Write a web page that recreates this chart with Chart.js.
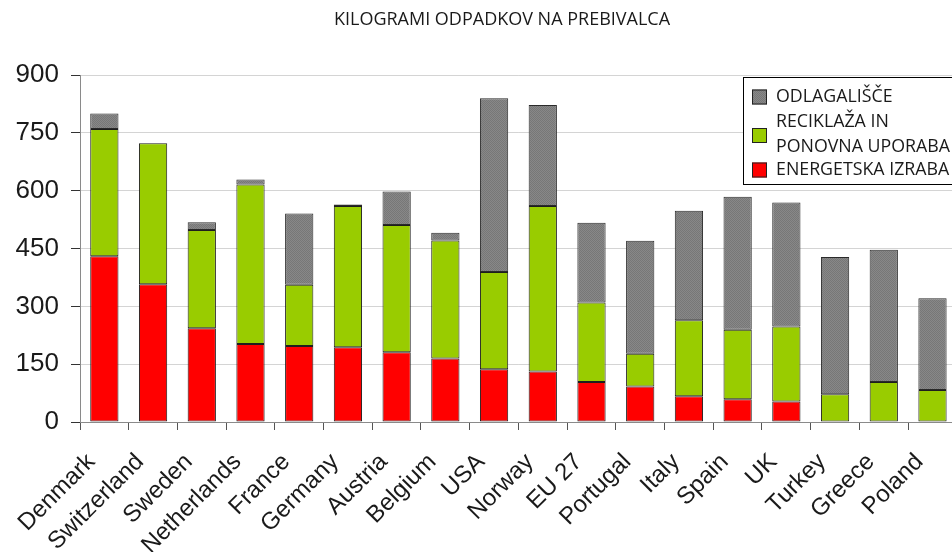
<!DOCTYPE html>
<html><head><meta charset="utf-8">
<script src="https://cdn.jsdelivr.net/npm/chart.js@4/dist/chart.umd.min.js"></script>
<style>
html,body{margin:0;padding:0;background:#fff;overflow:hidden}
#wrap{width:952px;height:552px;overflow:hidden;position:relative;background:#fff}
#box{position:absolute;left:0;top:0;width:971px;height:552px}
</style></head><body>
<div id="wrap"><div id="box"><canvas id="c" width="971" height="552"></canvas></div></div>
<script>
const titleText = 'KILOGRAMI ODPADKOV NA PREBIVALCA';
const categories = ['Denmark','Switzerland','Sweden','Netherlands','France','Germany','Austria','Belgium','USA','Norway','EU 27','Portugal','Italy','Spain','UK','Turkey','Greece','Poland'];
const energetskaIzraba = [430,357,243,202,197,194,181,165,137,131,104,92,67,59,53,0,0,0];
const reciklazaInPonovnaUporaba = [330,366,255,414,159,366,330,306,252,429,206,85,197,180,195,72,104,83];
const odlagalisce = [40,0,20,13,185,4,87,20,451,262,207,293,284,345,321,356,343,238];
const yTicks = [0,150,300,450,600,750,900];
const seriesNames = {
  red: ['ENERGETSKA IZRABA'],
  green: ['RECIKLAŽA IN','PONOVNA UPORABA'],
  gray: ['ODLAGALIŠČE']
};

const canvas = document.getElementById('c');
const ctx = canvas.getContext('2d');
function makeGrayPattern(){
  const p = document.createElement('canvas'); p.width = 2; p.height = 2;
  const g = p.getContext('2d');
  g.fillStyle = '#888888'; g.fillRect(0,0,2,2);
  g.fillStyle = '#777777'; g.fillRect(0,0,1,1); g.fillRect(1,1,1,1);
  return ctx.createPattern(p,'repeat');
}
const grayFill = makeGrayPattern();

const titlePlugin = {
  id:'titleDraw',
  afterDraw(chart){
    const c = chart.ctx; c.save();
    c.font = '18px "Open Sans"'; c.fillStyle = '#1a1a1a';
    c.textAlign = 'center'; c.textBaseline = 'middle';
    c.fillText(titleText, 502, 20);
    c.restore();
  }
};
const legendPlugin = {
  id:'legendBox',
  afterDraw(chart){
    const c = chart.ctx; c.save();
    const x = 743, y = 77, w = 220, h = 107;
    c.fillStyle = '#fff'; c.fillRect(x,y,w,h);
    c.strokeStyle = '#000'; c.lineWidth = 1; c.strokeRect(x+0.5,y+0.5,w,h);
    const ds = chart.data.datasets;
    const items = [
      {d: ds[2], lines: seriesNames.gray, ys:[97]},
      {d: ds[1], lines: seriesNames.green, ys:[122,147]},
      {d: ds[0], lines: seriesNames.red, ys:[170]}
    ];
    c.font = '17.8px "Open Sans"'; c.textBaseline = 'middle'; c.textAlign = 'left';
    items.forEach(it=>{
      const cy = it.ys.reduce((a,b)=>a+b,0)/it.ys.length;
      const sy = it.lines.length>1 ? cy+1 : cy;
      c.fillStyle = it.d.backgroundColor;
      c.fillRect(752, sy-7.5, 15, 15);
      c.strokeStyle = '#222'; c.strokeRect(752.5, sy-7.5+0.5, 14, 14);
      c.fillStyle = '#1a1a1a';
      it.lines.forEach((t,i)=>c.fillText(t, 776, it.ys[i]));
    });
    c.restore();
  }
};

new Chart(canvas, {
  type:'bar',
  data:{
    labels: categories,
    datasets:[
      {label: seriesNames.red.join(' '), data: energetskaIzraba, backgroundColor:'#ff0000', borderColor:'#1e1e1e', borderWidth:1, borderSkipped:false},
      {label: seriesNames.green.join(' '), data: reciklazaInPonovnaUporaba, backgroundColor:'#99cc00', borderColor:'#1e1e1e', borderWidth:1, borderSkipped:false},
      {label: seriesNames.gray.join(' '), data: odlagalisce, backgroundColor: grayFill, borderColor:'#2a2a2a', borderWidth:1, borderSkipped:false}
    ]
  },
  options:{
    responsive:false, animation:false,
    layout:{padding:{top:75,right:5,left:0,bottom:0}},
    datasets:{bar:{barPercentage:0.58, categoryPercentage:1}},
    plugins:{legend:{display:false}, title:{display:false}, tooltip:{enabled:false}},
    scales:{
      x:{
        stacked:true,
        grid:{offset:true, drawOnChartArea:false, tickLength:8, color:'#555', lineWidth:1},
        border:{color:'#8a8a8a', width:1},
        ticks:{maxRotation:45, minRotation:45, autoSkip:false, padding:18, labelOffset:-13, color:'#1a1a1a', font:{family:'"Liberation Sans", Arial', size:24}},
        afterFit(s){ s.height = 130; }
      },
      y:{
        stacked:true, min:0, max:900,
        afterBuildTicks(s){ s.ticks = yTicks.map(v=>({value:v})); },
        grid:{color:'#d4d4d4', tickLength:9, tickColor:'#333'},
        border:{color:'#8a8a8a', width:1},
        ticks:{padding:12, color:'#1a1a1a', font:{family:'"Liberation Sans", Arial', size:26}},
        afterFit(s){ s.width = 80; }
      }
    }
  },
  plugins:[titlePlugin, legendPlugin]
});
</script>
</body></html>
